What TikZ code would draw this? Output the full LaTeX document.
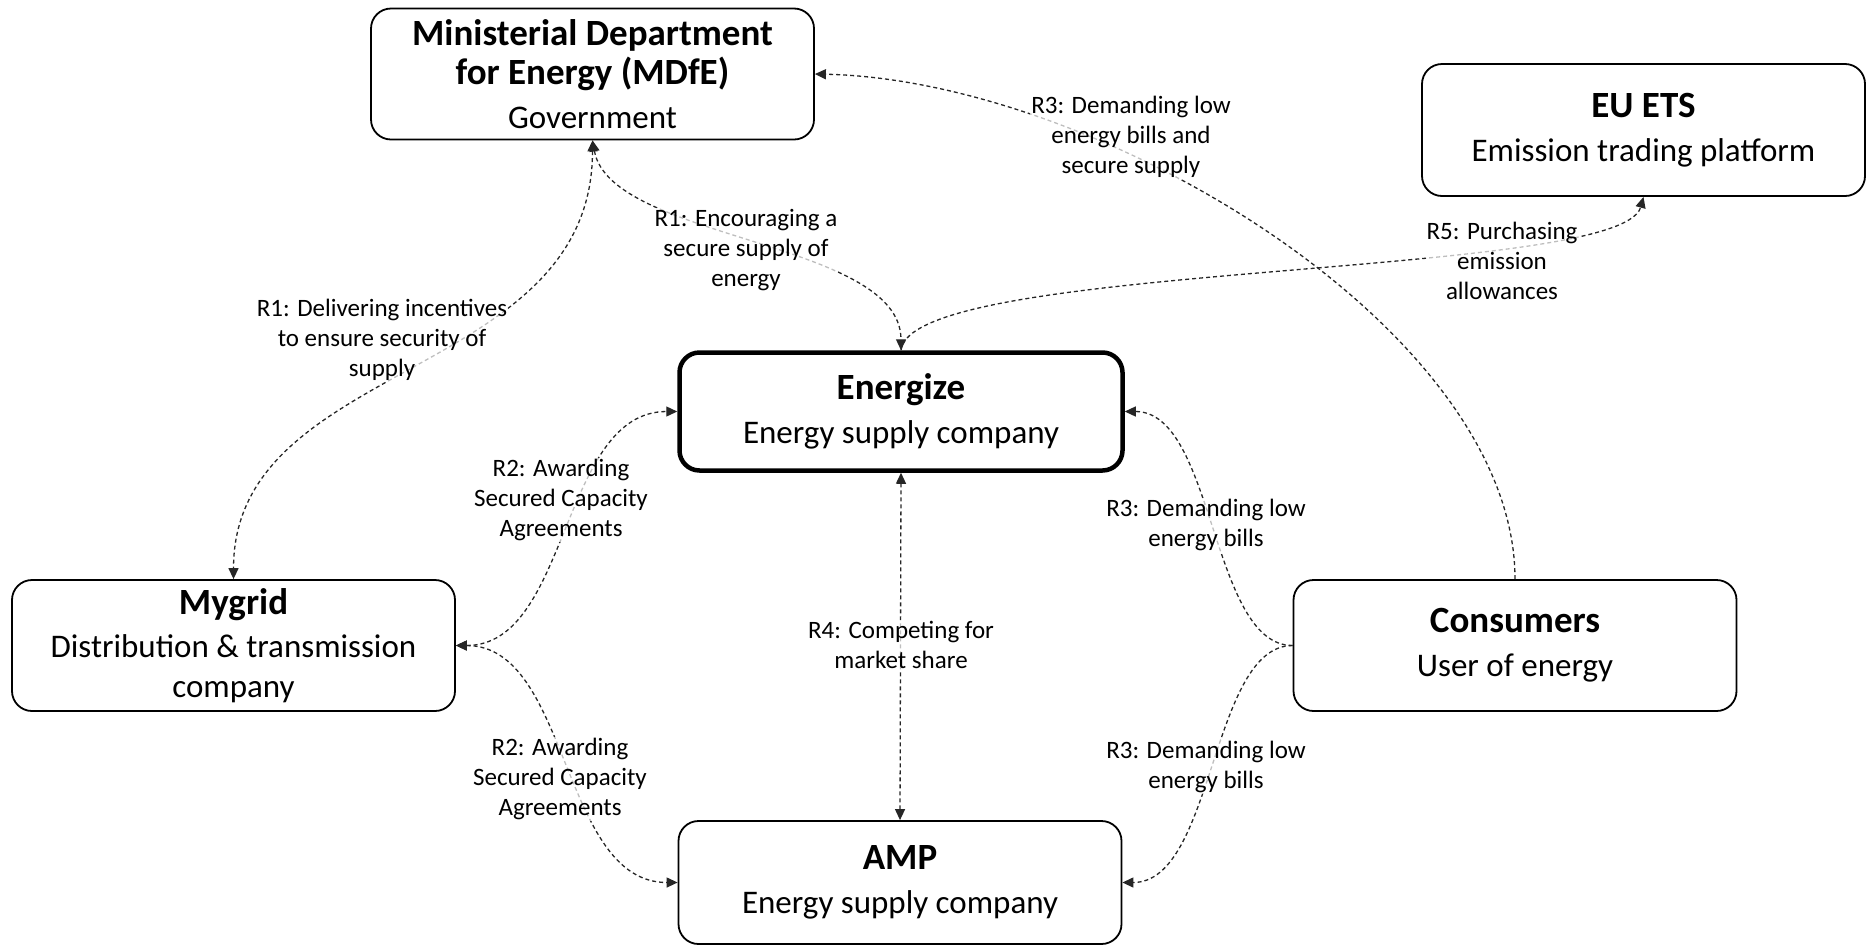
\documentclass[tikz,border=0pt]{standalone}
\usepackage{fontspec}
\setmainfont{Carlito}
\usetikzlibrary{arrows.meta}

\newcommand{\ttlfnt}{\fontsize{37}{40}\selectfont\bfseries}
\newcommand{\subfnt}{\fontsize{33}{40}\selectfont}
\newcommand{\lblfnt}{\fontsize{25}{30}\selectfont}

\tikzset{
  actor/.style={draw=black, line width=1.8pt, rounded corners=20pt,
    minimum width=443pt, minimum height=131pt, align=center,
    inner sep=0pt, font=\subfnt},
  focal/.style={actor, line width=4.5pt, minimum height=118pt},
  link/.style={draw=black!85, line width=1.3pt, dash pattern=on 4pt off 3pt,
    arrows={-Triangle[length=11pt, width=10pt]}},
  twoway/.style={link, arrows={Triangle[length=11pt, width=10pt]-Triangle[length=11pt, width=10pt]}},
  rel/.style={font=\lblfnt, align=center, fill=white, fill opacity=0.7,
    text opacity=1, inner sep=1pt}
}

\begin{document}
\begin{tikzpicture}[x=1pt, y=-1pt]
\useasboundingbox (0,0) rectangle (1867,946);

% actors
\node[actor] (mdfe) at (592.5,74)
  {{\ttlfnt Ministerial Department}\\[-1pt]{\ttlfnt for Energy (MDfE)}\\[4pt]Government};
\node[actor, minimum height=132pt] (euets) at (1643.5,130)
  {{\ttlfnt EU ETS}\\[4pt]Emission trading platform};
\node[focal] (energize) at (901,411.5)
  {{\ttlfnt Energize}\\[4pt]Energy supply company};
\node[actor] (mygrid) at (233.5,645.5)
  {{\ttlfnt Mygrid}\\[3pt]Distribution \& transmission\\company};
\node[actor] (consumers) at (1515,645.5)
  {{\ttlfnt Consumers}\\[4pt]User of energy};
\node[actor, minimum height=123pt] (amp) at (900,882.5)
  {{\ttlfnt AMP}\\[4pt]Energy supply company};

% relationships
\draw[twoway] (mdfe.south) .. controls +(0,240) and +(0,-220) .. (mygrid.north);
\draw[twoway] (mdfe.south) .. controls +(18,100) and +(0,-110) .. (energize.north);
\draw[twoway] (mygrid.east) .. controls +(114,0) and +(-117,0) .. (energize.west);
\draw[twoway] (mygrid.east) .. controls +(114,0) and +(-117,0) .. (amp.west);
\draw[twoway] (energize.south) -- (amp.north);
\draw[link] (consumers.west) .. controls +(-82,0) and +(90,0) .. (energize.east);
\draw[link] (consumers.west) .. controls +(-82,0) and +(92,0) .. (amp.east);
\draw[link] (consumers.north) .. controls +(0,-249) and +(285,6) .. (mdfe.east);
\draw[link] (energize.north) .. controls +(9,-90) and +(-23,83) .. (euets.south);

% relationship labels
\node[rel] (l1a) at (382,340) {R1: Delivering incentives\\to ensure security of\\supply};
\node[rel] (l1b) at (746,250) {R1: Encouraging a\\secure supply of\\energy};
\node[rel] (l3c) at (1131,137) {R3: Demanding low\\energy bills and\\secure supply};
\node[rel] (l5) at (1502,261) {R5: Purchasing\\emission\\allowances};
\node[rel] (l2a) at (561,500) {R2: Awarding\\Secured Capacity\\Agreements};
\node[rel] (l2b) at (560,779) {R2: Awarding\\Secured Capacity\\Agreements};
\node[rel] (l4) at (901,645) {R4: Competing for\\market share};
\node[rel] (l3a) at (1206,525) {R3: Demanding low\\energy bills};
\node[rel] (l3b) at (1206,767) {R3: Demanding low\\energy bills};
\end{tikzpicture}
\end{document}
